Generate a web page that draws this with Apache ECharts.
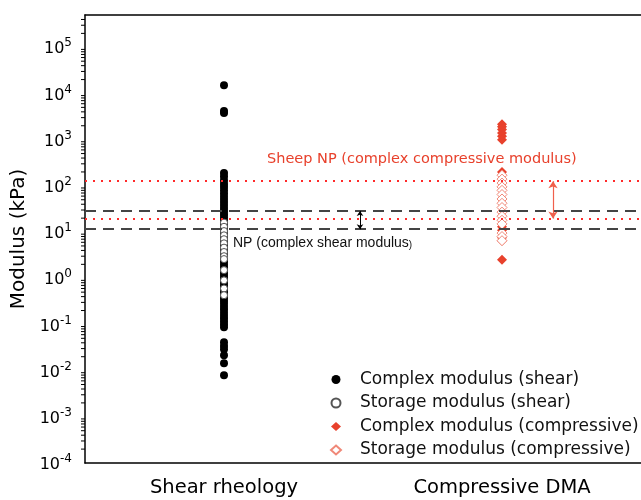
<!DOCTYPE html>
<html>
<head>
<meta charset="utf-8">
<script src="https://cdn.jsdelivr.net/npm/echarts@6/dist/echarts.min.js"></script>
<style>
  html, body { margin: 0; padding: 0; background: #fff; }
  #main { width: 641px; height: 500px; }
</style>
</head>
<body>
<div id="main"></div>
<script>
var categories = ['Shear rheology', 'Compressive DMA'];

// values in kPa
var shearComplex = [15000, 4200, 3800, 190, 160, 130, 110, 95, 80, 68, 58, 50, 43, 37, 32, 28, 24, 21, 18,
    15.5, 13.5, 12, 10.5, 9.2, 8, 7, 6.1, 5.3, 4.6, 4, 3.5, 3, 2.6, 2.3, 2, 1.75, 1.5, 1.3, 1.15, 1.0,
    0.87, 0.76, 0.66, 0.57, 0.5, 0.43, 0.37, 0.32, 0.28, 0.24, 0.21, 0.18, 0.155, 0.135, 0.115, 0.1, 0.087,
    0.041, 0.034, 0.029, 0.0215, 0.0144, 0.0079];
var shearStorage = [16, 13, 10.5, 8.5, 7, 5.7, 4.6, 3.7, 3.0, 2.6, 1.5, 0.9, 0.6, 0.43];
var compComplex = [2150, 1900, 1650, 1400, 1180, 1000, 200, 13, 11, 7.5, 6.5, 2.5];
var compStorage = [170, 140, 115, 95, 80, 65, 52, 42, 34, 27, 22, 18, 15, 9.5, 8, 6.5];

// reference ranges
var npShearRange = [11.5, 28.6];
var sheepCompRange = [19.6, 126];

var seriesNames = ['Complex modulus (shear)', 'Storage modulus (shear)',
    'Complex modulus (compressive)', 'Storage modulus (compressive)'];

var font = 'DejaVu Sans, Arial, sans-serif';
var red = '#e8412c';

// minor ticks of the log axis (2..9 in each decade)
var minorTicks = [];
for (var e = -4; e <= 5; e++) {
    for (var k = 2; k <= 9; k++) {
        var v = k * Math.pow(10, e);
        if (v < 5e5) minorTicks.push([0, v]);
    }
}

function pairs(cat, arr) {
    return arr.map(function (v) { return [cat, v]; });
}

var myChart = echarts.init(document.getElementById('main'));

var option = {
    animation: false,
    textStyle: { fontFamily: font },
    grid: { left: 85, right: 0, top: 15, bottom: 37, outerBoundsMode: 'none', containLabel: false },
    legend: {
        data: seriesNames,
        orient: 'vertical',
        left: 325,
        top: 366,
        itemWidth: 10,
        itemHeight: 9,
        itemGap: 6.5,
        symbolKeepAspect: true,
        textStyle: { fontSize: 17, color: '#111', fontFamily: font, padding: [0, 0, 0, 14] }
    },
    xAxis: [{
        type: 'category',
        data: categories,
        boundaryGap: true,
        axisLine: { lineStyle: { color: '#000', width: 1.5 } },
        axisTick: { alignWithLabel: true, length: 6, lineStyle: { color: '#000' } },
        axisLabel: { fontSize: 19.5, color: '#000', margin: 15 }
    }, {
        type: 'category',
        data: categories,
        position: 'top',
        axisLine: { lineStyle: { color: '#000', width: 1.5 } },
        axisTick: { show: false },
        axisLabel: { show: false }
    }],
    yAxis: {
        type: 'log',
        logBase: 10,
        min: 1e-4,
        max: 5e5,
        name: 'Modulus (kPa)',
        nameLocation: 'middle',
        nameGap: 46,
        nameTextStyle: { fontSize: 20, color: '#000' },
        splitLine: { show: false },
        axisLine: { show: true, lineStyle: { color: '#000', width: 1.5 } },
        axisTick: { length: 8, lineStyle: { color: '#000' } },
        axisLabel: {
            margin: 13,
            formatter: function (value) {
                var ex = Math.log10(value);
                if (Math.abs(ex - Math.round(ex)) > 1e-6) return '';
                return '{b|10}{s|' + Math.round(ex) + '}';
            },
            rich: {
                b: { fontSize: 16, color: '#000', lineHeight: 20, verticalAlign: 'bottom' },
                s: { fontSize: 12, color: '#000', lineHeight: 20, verticalAlign: 'top' }
            }
        }
    },
    graphic: [{
        type: 'text',
        left: 267,
        top: 152,
        style: { text: 'Sheep NP (complex compressive modulus)', fill: red, fontSize: 14.5, fontFamily: font }
    }, {
        type: 'text',
        left: 233,
        top: 236,
        style: {
            text: '{a|NP (complex shear modulus}{c|)}',
            fontFamily: font,
            rich: {
                a: { fontSize: 14, fill: '#111', verticalAlign: 'bottom', lineHeight: 16 },
                c: { fontSize: 10, fill: '#111', verticalAlign: 'bottom', lineHeight: 16 }
            }
        }
    }],
    series: [{
        type: 'custom',
        silent: true,
        clip: false,
        data: minorTicks,
        renderItem: function (params, api) {
            var p = api.coord([0, api.value(1)]);
            var x = params.coordSys.x;
            return {
                type: 'line',
                shape: { x1: x - 4, y1: p[1], x2: x, y2: p[1] },
                style: { stroke: '#000', lineWidth: 1 }
            };
        }
    }, {
        name: seriesNames[0],
        type: 'scatter',
        symbol: 'circle',
        symbolSize: 8,
        itemStyle: { color: '#000', opacity: 1 },
        data: pairs(categories[0], shearComplex),
        markLine: {
            silent: true,
            symbol: ['none', 'none'],
            label: { show: false },
            lineStyle: { color: '#444', width: 2, type: [11, 7] },
            data: [
                { yAxis: npShearRange[0] },
                { yAxis: npShearRange[1] },
                [
                    { coord: [categories[0], npShearRange[1]], x: 360, symbol: 'arrow', symbolSize: 5,
                      lineStyle: { color: '#000', width: 1, type: 'solid' } },
                    { coord: [categories[0], npShearRange[0]], x: 360, symbol: 'arrow', symbolSize: 5 }
                ]
            ]
        }
    }, {
        name: seriesNames[1],
        type: 'scatter',
        symbol: 'circle',
        symbolSize: 7,
        itemStyle: { color: '#fff', borderColor: '#555', borderWidth: 1, opacity: 1 },
        data: pairs(categories[0], shearStorage)
    }, {
        name: seriesNames[2],
        type: 'scatter',
        symbol: 'diamond',
        symbolSize: 10,
        itemStyle: { color: red, opacity: 1 },
        data: pairs(categories[1], compComplex),
        markLine: {
            silent: true,
            symbol: ['none', 'none'],
            label: { show: false },
            lineStyle: { color: '#ff2a2a', width: 2, type: [2, 6] },
            data: [
                { yAxis: sheepCompRange[0] },
                { yAxis: sheepCompRange[1] },
                [
                    { coord: [categories[1], sheepCompRange[1]], x: 553, symbol: 'arrow', symbolSize: 7,
                      lineStyle: { color: '#f0604c', width: 1.2, type: 'solid' } },
                    { coord: [categories[1], sheepCompRange[0]], x: 553, symbol: 'arrow', symbolSize: 7 }
                ]
            ]
        }
    }, {
        name: seriesNames[3],
        type: 'scatter',
        symbol: 'diamond',
        symbolSize: 10,
        itemStyle: { color: '#fff', borderColor: '#f08878', borderWidth: 1, opacity: 1 },
        data: pairs(categories[1], compStorage)
    }]
};

myChart.setOption(option);
</script>
</body>
</html>
